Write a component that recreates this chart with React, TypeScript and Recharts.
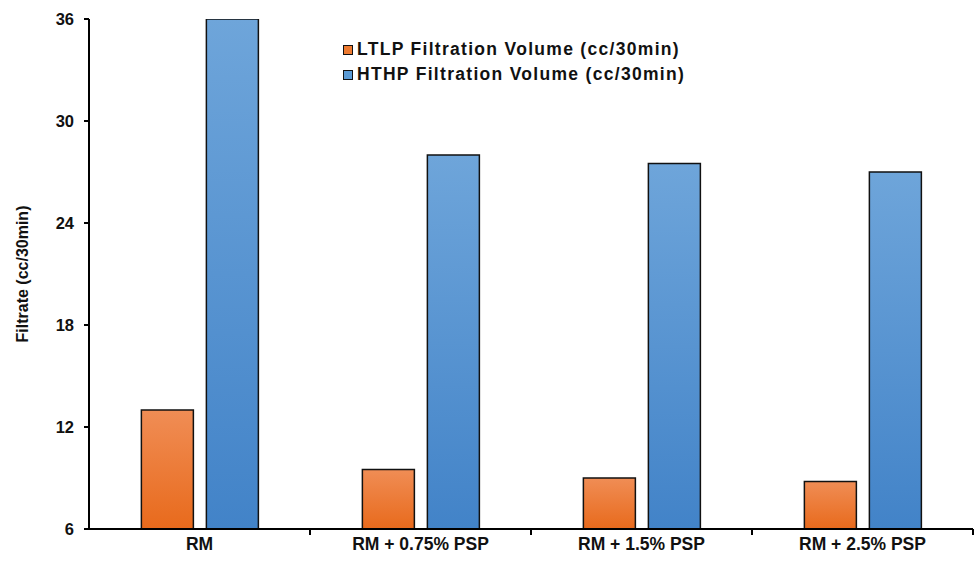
import { BarChart, Bar, XAxis, YAxis } from 'recharts';

const categories = ['RM', 'RM + 0.75% PSP', 'RM + 1.5% PSP', 'RM + 2.5% PSP'];
const ltlpVolume = [13, 9.5, 9, 8.8];
const hthpVolume = [36, 28, 27.5, 27];
const yTicks = [6, 12, 18, 24, 30, 36];

const data = categories.map((name, i) => ({
  name,
  ltlp: ltlpVolume[i],
  hthp: hthpVolume[i],
}));

const font = 'Arial, "Liberation Sans", sans-serif';
const TICK_GAP = 7;

// category label plus the small tick mark on the right edge of each band
function CategoryTick(props: any) {
  const { x, y, payload } = props;
  const half = payload.offset || 0;
  const axisY = y - TICK_GAP;
  return (
    <g>
      <line x1={x + half} x2={x + half} y1={axisY} y2={axisY + 6} stroke="#000" strokeWidth={2} />
      <text
        x={x}
        y={y}
        dy="0.8em"
        textAnchor="middle"
        fill="#111"
        fontSize={17.5}
        fontWeight="bold"
        fontFamily={font}
      >
        {payload.value}
      </text>
    </g>
  );
}

function LegendBox() {
  const items = [
    { label: 'LTLP Filtration Volume (cc/30min)', color: '#EE7A30' },
    { label: 'HTHP Filtration Volume (cc/30min)', color: '#5B9BD5' },
  ];
  return (
    <div style={{ position: 'absolute', left: 343, top: 37, fontFamily: font }}>
      {items.map(it => (
        <div key={it.label} style={{ display: 'flex', alignItems: 'center', height: 25 }}>
          <span style={{
            width: 10, height: 10, background: it.color, border: '1.5px solid #111',
            marginRight: 4, boxSizing: 'border-box', display: 'inline-block',
          }} />
          <span style={{ fontSize: 17.5, fontWeight: 'bold', color: '#111', letterSpacing: 1.3 }}>{it.label}</span>
        </div>
      ))}
    </div>
  );
}

export default function App() {
  return (
    <div style={{ position: 'relative', width: 976, height: 561, background: '#fff' }}>
      <style>{'body{margin:0}'}</style>
      <BarChart
        width={976}
        height={561}
        data={data}
        margin={{ top: 19, right: 3, bottom: 0, left: 0 }}
        barCategoryGap="23.7%"
        barGap={13}
      >
        <defs>
          <linearGradient id="gOrange" x1="0" y1="0" x2="0" y2="1">
            <stop offset="0%" stopColor="#F08D55" />
            <stop offset="100%" stopColor="#E86A1C" />
          </linearGradient>
          <linearGradient id="gBlue" x1="0" y1="0" x2="0" y2="1">
            <stop offset="0%" stopColor="#6EA5DA" />
            <stop offset="100%" stopColor="#4283C8" />
          </linearGradient>
        </defs>
        <XAxis
          dataKey="name"
          height={32}
          tickLine={false}
          tickSize={0}
          axisLine={{ stroke: '#000', strokeWidth: 2 }}
          tick={<CategoryTick />}
          tickMargin={TICK_GAP}
          interval={0}
        />
        <YAxis
          width={89}
          domain={[6, 36]}
          ticks={yTicks}
          allowDataOverflow
          axisLine={{ stroke: '#000', strokeWidth: 2 }}
          tickLine={{ stroke: '#000', strokeWidth: 2 }}
          tickSize={5}
          tickMargin={10}
          tick={{ fill: '#111', fontSize: 16.5, fontWeight: 'bold', fontFamily: font }}
          label={{
            value: 'Filtrate (cc/30min)',
            angle: -90,
            position: 'insideLeft',
            offset: 22,
            style: { fill: '#111', fontSize: 16, fontWeight: 'bold', fontFamily: font, textAnchor: 'middle' },
          }}
        />
        <Bar dataKey="ltlp" fill="url(#gOrange)" stroke="#111" strokeWidth={1.5} isAnimationActive={false} />
        <Bar dataKey="hthp" fill="url(#gBlue)" stroke="#111" strokeWidth={1.5} isAnimationActive={false} />
      </BarChart>
      <LegendBox />
    </div>
  );
}
